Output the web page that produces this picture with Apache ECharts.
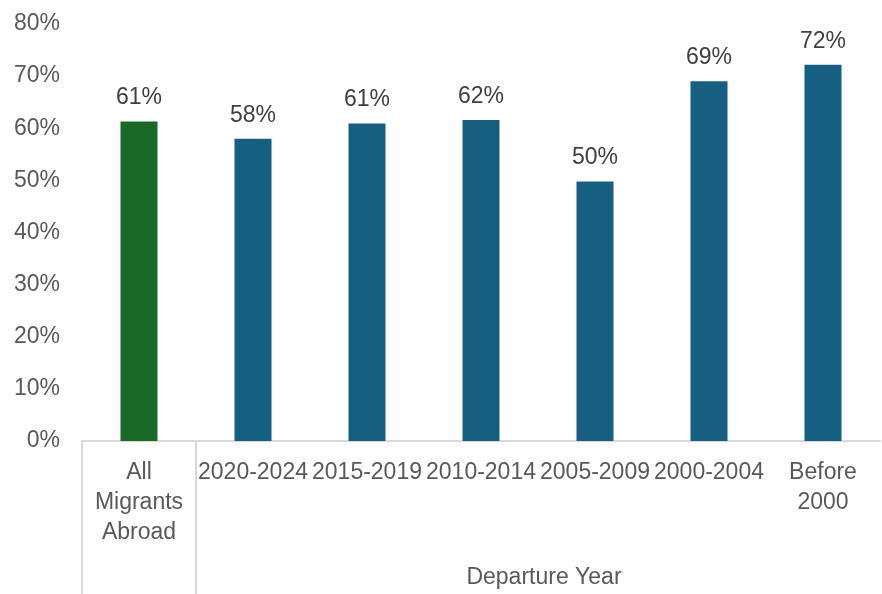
<!DOCTYPE html>
<html><head><meta charset="utf-8">
<script src="https://cdn.jsdelivr.net/npm/echarts@6/dist/echarts.min.js"></script>
<style>html,body{margin:0;padding:0;background:#fff}#c{width:882px;height:594px}</style>
</head><body><div id="c"></div>
<script>
var categories = ['All\nMigrants\nAbroad', '2020-2024', '2015-2019', '2010-2014', '2005-2009', '2000-2004', 'Before\n2000'];
var values = [61.3, 58.0, 60.9, 61.6, 49.8, 69.0, 72.2];
var yTicks = [0, 10, 20, 30, 40, 50, 60, 70, 80];
var axisTitle = 'Departure Year';
var colors = ['#1b6926', '#175f80'];

var chart = echarts.init(document.getElementById('c'));
var font = '"Liberation Sans", Arial, sans-serif';
chart.setOption({
  animation: false,
  grid: { left: 82, right: 2, top: 24, bottom: 153, containLabel: false },
  xAxis: {
    type: 'category', data: categories,
    axisLine: { lineStyle: { color: '#d9d9d9', width: 2 } },
    axisTick: { show: false },
    axisLabel: { color: '#595959', fontSize: 23, fontFamily: font, lineHeight: 30, margin: 17, interval: 0 }
  },
  yAxis: {
    type: 'value', min: yTicks[0], max: yTicks[yTicks.length - 1], interval: 10,
    axisLine: { show: false }, axisTick: { show: false }, splitLine: { show: false },
    axisLabel: { color: '#595959', fontSize: 23, fontFamily: font, margin: 22, formatter: function (v) { return v + '%'; } }
  },
  series: [{
    type: 'bar', barWidth: 37,
    data: values.map(function (v, i) { return { value: v, itemStyle: { color: i === 0 ? colors[0] : colors[1] } }; }),
    label: { show: true, position: 'top', distance: 12, color: '#404040', fontSize: 23, fontFamily: font,
      formatter: function (p) { return Math.round(p.value) + '%'; } }
  }]
});

var y0 = chart.convertToPixel({ yAxisIndex: 0 }, 0);
var xa = chart.convertToPixel({ xAxisIndex: 0 }, 0);
var xb = chart.convertToPixel({ xAxisIndex: 0 }, 1);
var step = xb - xa;
var b0 = xa - step / 2, b1 = xa + step / 2, bEnd = chart.convertToPixel({ xAxisIndex: 0 }, categories.length - 1) + step / 2;
chart.setOption({
  graphic: [
    { type: 'line', shape: { x1: b0, y1: y0, x2: b0, y2: 594 }, style: { stroke: '#d9d9d9', lineWidth: 2 } },
    { type: 'line', shape: { x1: b1, y1: y0, x2: b1, y2: 594 }, style: { stroke: '#d9d9d9', lineWidth: 2 } },
    { type: 'text', x: (b1 + bEnd) / 2 + 6, y: 578, style: { text: axisTitle, fill: '#595959', font: '23px ' + font, textAlign: 'center', textVerticalAlign: 'middle' } }
  ]
});
</script></body></html>
